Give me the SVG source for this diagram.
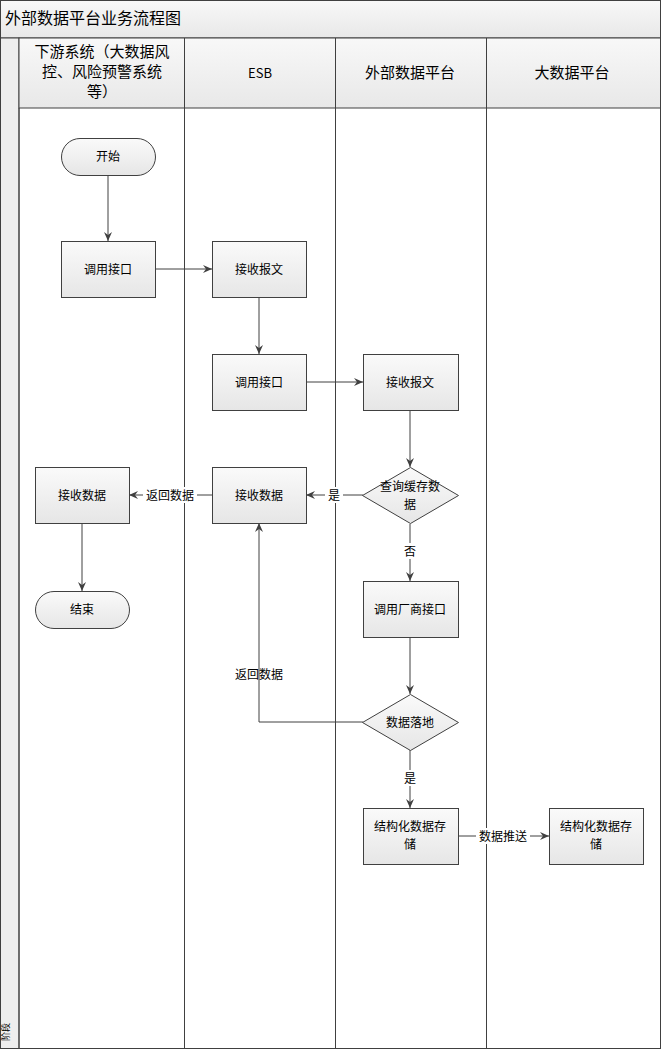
<svg xmlns="http://www.w3.org/2000/svg" width="661" height="1049" viewBox="0 0 661 1049">
<style>
text{font-family:"Noto Sans CJK SC","Liberation Sans",sans-serif;fill:#000}
.n{font-size:12px;text-anchor:middle}
.h{font-size:15px;text-anchor:middle}
.s{fill:url(#g);stroke:#404040;stroke-width:1}
.l{fill:none;stroke:#404040;stroke-width:1}
.c{fill:none;stroke:#404040;stroke-width:1;marker-end:url(#a)}
.lb{font-size:12px;text-anchor:middle}
</style>
<defs>
<linearGradient id="g" x1="0" y1="0" x2="0" y2="1"><stop offset="0" stop-color="#fafafa"/><stop offset="1" stop-color="#e6e6e6"/></linearGradient>
<linearGradient id="hg" x1="0" y1="0" x2="0" y2="1"><stop offset="0" stop-color="#f8f8f8"/><stop offset="1" stop-color="#e8e8e8"/></linearGradient>
<marker id="a" markerWidth="10" markerHeight="8" refX="9" refY="4" orient="auto" markerUnits="userSpaceOnUse"><path d="M0,0 L9,4 L0,8 L3,4 Z" fill="#404040"/></marker>
</defs>
<g id="frame">
<rect x="0.5" y="0.5" width="660" height="1048" fill="#fff" stroke="#404040"/>
<rect x="0.5" y="0.5" width="660" height="37.5" fill="url(#hg)" stroke="#404040"/>
<text x="5" y="24" style="font-size:16px">外部数据平台业务流程图</text>
<rect x="0.5" y="38" width="18.5" height="1010.5" fill="#eeeeee" stroke="#404040"/>
<rect x="19" y="38" width="641.5" height="70" fill="url(#hg)" stroke="#404040"/>
<line class="l" x1="19" y1="108" x2="19" y2="1048"/>
<line class="l" x1="184.5" y1="38" x2="184.5" y2="1048"/>
<line class="l" x1="335.5" y1="38" x2="335.5" y2="1048"/>
<line class="l" x1="486.5" y1="38" x2="486.5" y2="1048"/>
<text class="h" x="102" y="57">下游系统（大数据风</text>
<text class="h" x="102" y="77">控、风险预警系统</text>
<text class="h" x="102" y="97">等）</text>
<text class="n" x="260" y="78" style="font-size:13px">ESB</text>
<text class="h" x="410" y="78">外部数据平台</text>
<text class="h" x="572" y="78">大数据平台</text>
<text x="9" y="1032" style="font-size:9px" text-anchor="middle" transform="rotate(-90 9 1032)">阶段</text>
</g>
<g id="connectors">
<line class="c" x1="108" y1="175" x2="108" y2="241"/>
<line class="c" x1="155" y1="269" x2="212" y2="269"/>
<line class="c" x1="259" y1="297" x2="259" y2="354"/>
<line class="c" x1="306" y1="382" x2="363" y2="382"/>
<line class="c" x1="410" y1="410" x2="410" y2="467"/>
<polyline class="c" points="363,495 306,495"/>
<rect x="325" y="487" width="18" height="16" fill="#fff"/>
<text class="lb" x="334" y="500">是</text>
<line class="c" x1="212" y1="495" x2="129" y2="495"/>
<rect x="143" y="487" width="54" height="16" fill="#fff"/>
<text class="lb" x="170" y="500">返回数据</text>
<line class="c" x1="82" y1="523" x2="82" y2="591"/>
<line class="c" x1="410" y1="524" x2="410" y2="581"/>
<rect x="402" y="543" width="17" height="16" fill="#fff"/>
<text class="lb" x="410" y="556">否</text>
<line class="c" x1="410" y1="637" x2="410" y2="694"/>
<polyline class="c" points="363,722 259,722 259,523"/>
<text class="lb" x="259" y="679">返回数据</text>
<line class="c" x1="410" y1="750" x2="410" y2="808"/>
<rect x="402" y="770" width="17" height="16" fill="#fff"/>
<text class="lb" x="410" y="783">是</text>
<line class="c" x1="458" y1="836" x2="549" y2="836"/>
<rect x="476" y="828" width="54" height="16" fill="#fff"/>
<text class="lb" x="503" y="841">数据推送</text>
</g>
<g id="n_start"><rect class="s" x="61.5" y="138.5" width="94" height="37" rx="18.5"/><text class="n" x="108" y="161">开始</text></g>
<g id="n_call1"><rect class="s" x="61.5" y="241.5" width="94" height="56"/><text class="n" x="108" y="274">调用接口</text></g>
<g id="n_recv1"><rect class="s" x="212.5" y="241.5" width="94" height="56"/><text class="n" x="259" y="274">接收报文</text></g>
<g id="n_call2"><rect class="s" x="212.5" y="354.5" width="94" height="56"/><text class="n" x="259" y="387">调用接口</text></g>
<g id="n_recv2"><rect class="s" x="363.5" y="354.5" width="95" height="56"/><text class="n" x="410" y="387">接收报文</text></g>
<g id="n_query"><polygon class="s" points="410.5,467.5 458.5,495.5 410.5,523.5 362.5,495.5"/><text class="n" x="410" y="491">查询缓存数</text><text class="n" x="410" y="509">据</text></g>
<g id="n_esbrecv"><rect class="s" x="212.5" y="467.5" width="94" height="56"/><text class="n" x="259" y="500">接收数据</text></g>
<g id="n_dsrecv"><rect class="s" x="35.5" y="467.5" width="94" height="56"/><text class="n" x="82" y="500">接收数据</text></g>
<g id="n_end"><rect class="s" x="35.5" y="591.5" width="94" height="37" rx="18.5"/><text class="n" x="82" y="614">结束</text></g>
<g id="n_vendor"><rect class="s" x="363.5" y="581.5" width="95" height="56"/><text class="n" x="410" y="614">调用厂商接口</text></g>
<g id="n_land"><polygon class="s" points="410.5,694.5 458.5,722.5 410.5,750.5 362.5,722.5"/><text class="n" x="410" y="727">数据落地</text></g>
<g id="n_store1"><rect class="s" x="363.5" y="808.5" width="95" height="56"/><text class="n" x="410" y="831">结构化数据存</text><text class="n" x="410" y="849">储</text></g>
<g id="n_store2"><rect class="s" x="549.5" y="808.5" width="94" height="56"/><text class="n" x="596" y="831">结构化数据存</text><text class="n" x="596" y="849">储</text></g>
</svg>
